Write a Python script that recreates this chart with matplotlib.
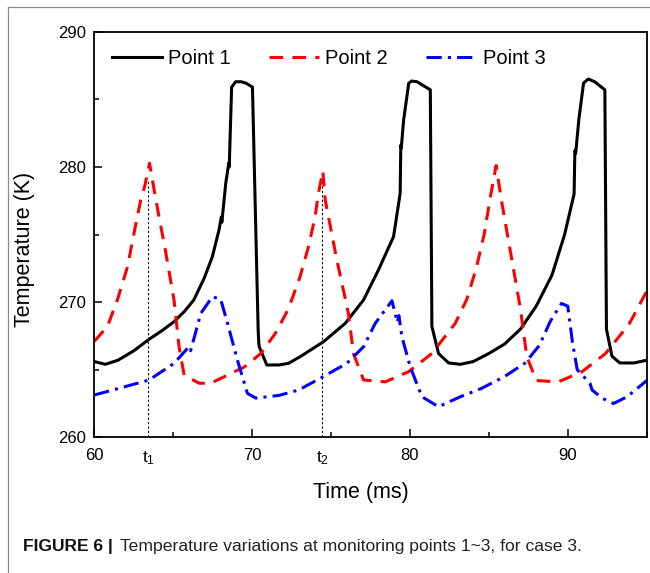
import matplotlib.pyplot as plt
from matplotlib.ticker import MultipleLocator
from matplotlib.lines import Line2D

plt.rcParams['font.family'] = ['Liberation Sans', 'DejaVu Sans']

# Point 1 (solid black)
time_p1 = [60.0, 60.7, 61.5, 62.5, 63.47, 64.3, 65.05, 65.7, 66.3, 66.96, 67.48, 67.9,
           68.05, 68.08, 68.33, 68.52, 68.55, 68.6, 68.7, 68.96, 69.3, 69.6, 70.02,
           70.38, 70.42, 70.45, 70.93, 71.7, 72.3, 73.04, 74.52, 75.9, 77.06, 78.0,
           78.96, 79.38, 79.42, 79.45, 79.6, 79.92, 80.1, 80.44, 81.29, 81.39, 81.81,
           82.45, 83.19, 84.0, 85.0, 86.0, 87.0, 88.0, 89.0, 89.8, 90.4, 90.45, 90.5,
           90.7, 91.0, 91.3, 91.7, 92.35, 92.45, 92.8, 93.3, 94.2, 95.0]
temp_p1 = [265.6, 265.4, 265.7, 266.4, 267.25, 267.9, 268.55, 269.3, 270.15, 271.76,
           273.36, 275.33, 276.3, 275.9, 278.8, 280.3, 280.0, 282.0, 285.9, 286.3,
           286.3, 286.2, 285.9, 268.0, 267.0, 266.7, 265.35, 265.35, 265.47, 265.96,
           267.07, 268.43, 270.16, 272.37, 274.84, 278.05, 281.6, 281.4, 283.47, 286.18,
           286.35, 286.3, 285.7, 268.2, 266.2, 265.5, 265.4, 265.6, 266.2, 266.9, 268.0,
           269.7, 272.0, 275.0, 278.0, 281.2, 281.0, 283.5, 286.2, 286.5, 286.3, 285.7,
           268.0, 266.0, 265.5, 265.5, 265.7]

# Point 2 (dashed red)
time_p2 = [60.0, 60.83, 61.46, 62.1, 62.6, 62.94, 63.2, 63.36, 63.5, 63.9, 64.5, 65.05,
           65.37, 65.69, 66.64, 67.38, 68.44, 69.5, 70.55, 71.48, 72.3, 73.04, 73.57,
           73.99, 74.2, 74.48, 74.63, 75.37, 76.1, 76.42, 77.06, 78.43, 79.91, 81.39,
           82.87, 83.6, 84.2, 84.7, 85.1, 85.46, 85.8, 86.4, 87.0, 87.4, 88.0, 89.4,
           90.9, 92.4, 93.9, 95.0]
temp_p2 = [267.1, 268.2, 270.15, 272.6, 275.6, 277.55, 278.6, 279.5, 280.27, 277.55,
           273.85, 270.15, 266.7, 264.6, 264.0, 264.0, 264.6, 265.2, 266.2, 267.7,
           269.5, 271.9, 274.1, 276.3, 278.05, 279.7, 277.55, 273.1, 269.17, 266.2,
           264.24, 264.1, 264.85, 266.2, 268.43, 270.2, 272.5, 275.0, 277.8, 280.1,
           277.5, 273.5, 269.5, 266.0, 264.2, 264.1, 264.85, 266.2, 268.4, 270.8]

# Point 3 (dash-dot blue)
time_p3 = [60.0, 61.5, 63.47, 65.05, 66.0, 66.1, 66.75, 67.48, 68.01, 68.44, 69.07,
           69.7, 70.23, 71.7, 72.95, 74.52, 76.0, 77.06, 77.8, 78.86, 79.2, 79.3, 79.49,
           80.02, 80.76, 81.81, 83.19, 84.5, 86.0, 87.3, 88.2, 88.9, 89.6, 90.0, 90.3,
           90.6, 91.4, 91.54, 92.17, 92.9, 93.76, 94.8, 95.0]
temp_p3 = [263.13, 263.6, 264.24, 265.47, 266.7, 266.4, 269.17, 270.4, 270.2, 268.43,
           265.7, 263.25, 262.9, 263.1, 263.5, 264.5, 265.47, 266.7, 268.43, 270.1,
           268.5, 269.0, 267.44, 265.2, 263.0, 262.26, 263.0, 263.6, 264.5, 265.5,
           266.8, 268.6, 269.9, 269.7, 267.0, 265.0, 264.0, 263.5, 262.9, 262.5, 263.0,
           264.0, 264.2]

t_marks = [63.42, 74.44]
t_names = [r'$\mathregular{t_1}$', r'$\mathregular{t_2}$']
t_mark_top = 279.0

fig = plt.figure(figsize=(6.5, 5.73), dpi=100)
ax = fig.add_axes([0.1451, 0.2368, 0.8498, 0.7079])

ax.vlines(t_marks, 260, t_mark_top, colors='black', linewidth=0.8, linestyles=(0, (2, 2)))
ax.plot(time_p1, temp_p1, color='black', lw=2.2, label='Point 1')
ax.plot(time_p2, temp_p2, color='#ff0000', lw=2.2, ls=(0, (4.5, 3)), label='Point 2')
ax.plot(time_p3, temp_p3, color='#0000ff', lw=2.2, ls=(0, (5, 2, 1, 2)), label='Point 3')

ax.set_xlim(60, 95)
ax.set_ylim(260, 290)
ax.set_xticks([60, 70, 80, 90])
ax.set_yticks([260, 270, 280, 290])
ax.xaxis.set_minor_locator(MultipleLocator(5))
ax.yaxis.set_minor_locator(MultipleLocator(5))
ax.tick_params(which='both', direction='in', labelsize=12, width=1.1)
ax.tick_params(which='major', length=6)
ax.tick_params(which='minor', length=3.5)
ax.tick_params(axis='x', pad=8)
ax.tick_params(axis='y', pad=6)
for s in ax.spines.values():
    s.set_linewidth(1.3)

for t, name in zip(t_marks, t_names):
    ax.text(t, -0.03, name, transform=ax.get_xaxis_transform(),
            ha='center', va='top', fontsize=12.5)

ax.set_xlabel('Time (ms)', fontsize=15.5, va='center')
ax.xaxis.set_label_coords(0.483, -0.137)
ax.set_ylabel('Temperature (K)', fontsize=15.5, va='center')
ax.yaxis.set_label_coords(-0.1255, 0.462)

ax.legend(ncol=3, frameon=False, loc='center left', bbox_to_anchor=(0.0315, 0.934),
          borderpad=0, borderaxespad=0, handlelength=2.5, handletextpad=0.3,
          columnspacing=1.9, fontsize=14.5)

# caption and page frame
fig.text(23 / 650, 1 - 547 / 573, 'FIGURE 6 |', fontsize=12.5, fontweight='bold',
         color='#111111', va='center', ha='left')
fig.text(120 / 650, 1 - 547 / 573,
         'Temperature variations at monitoring points 1~3, for case 3.',
         fontsize=12.6, color='#222222', va='center', ha='left')
fig.add_artist(Line2D([7.7 / 650, 7.7 / 650], [0, 1 - 6.5 / 573], color='#8a8a8a', lw=0.9))
fig.add_artist(Line2D([7.7 / 650, 1], [1 - 6.5 / 573, 1 - 6.5 / 573], color='#8a8a8a', lw=0.9))

fig.savefig('out.png', dpi=100)
